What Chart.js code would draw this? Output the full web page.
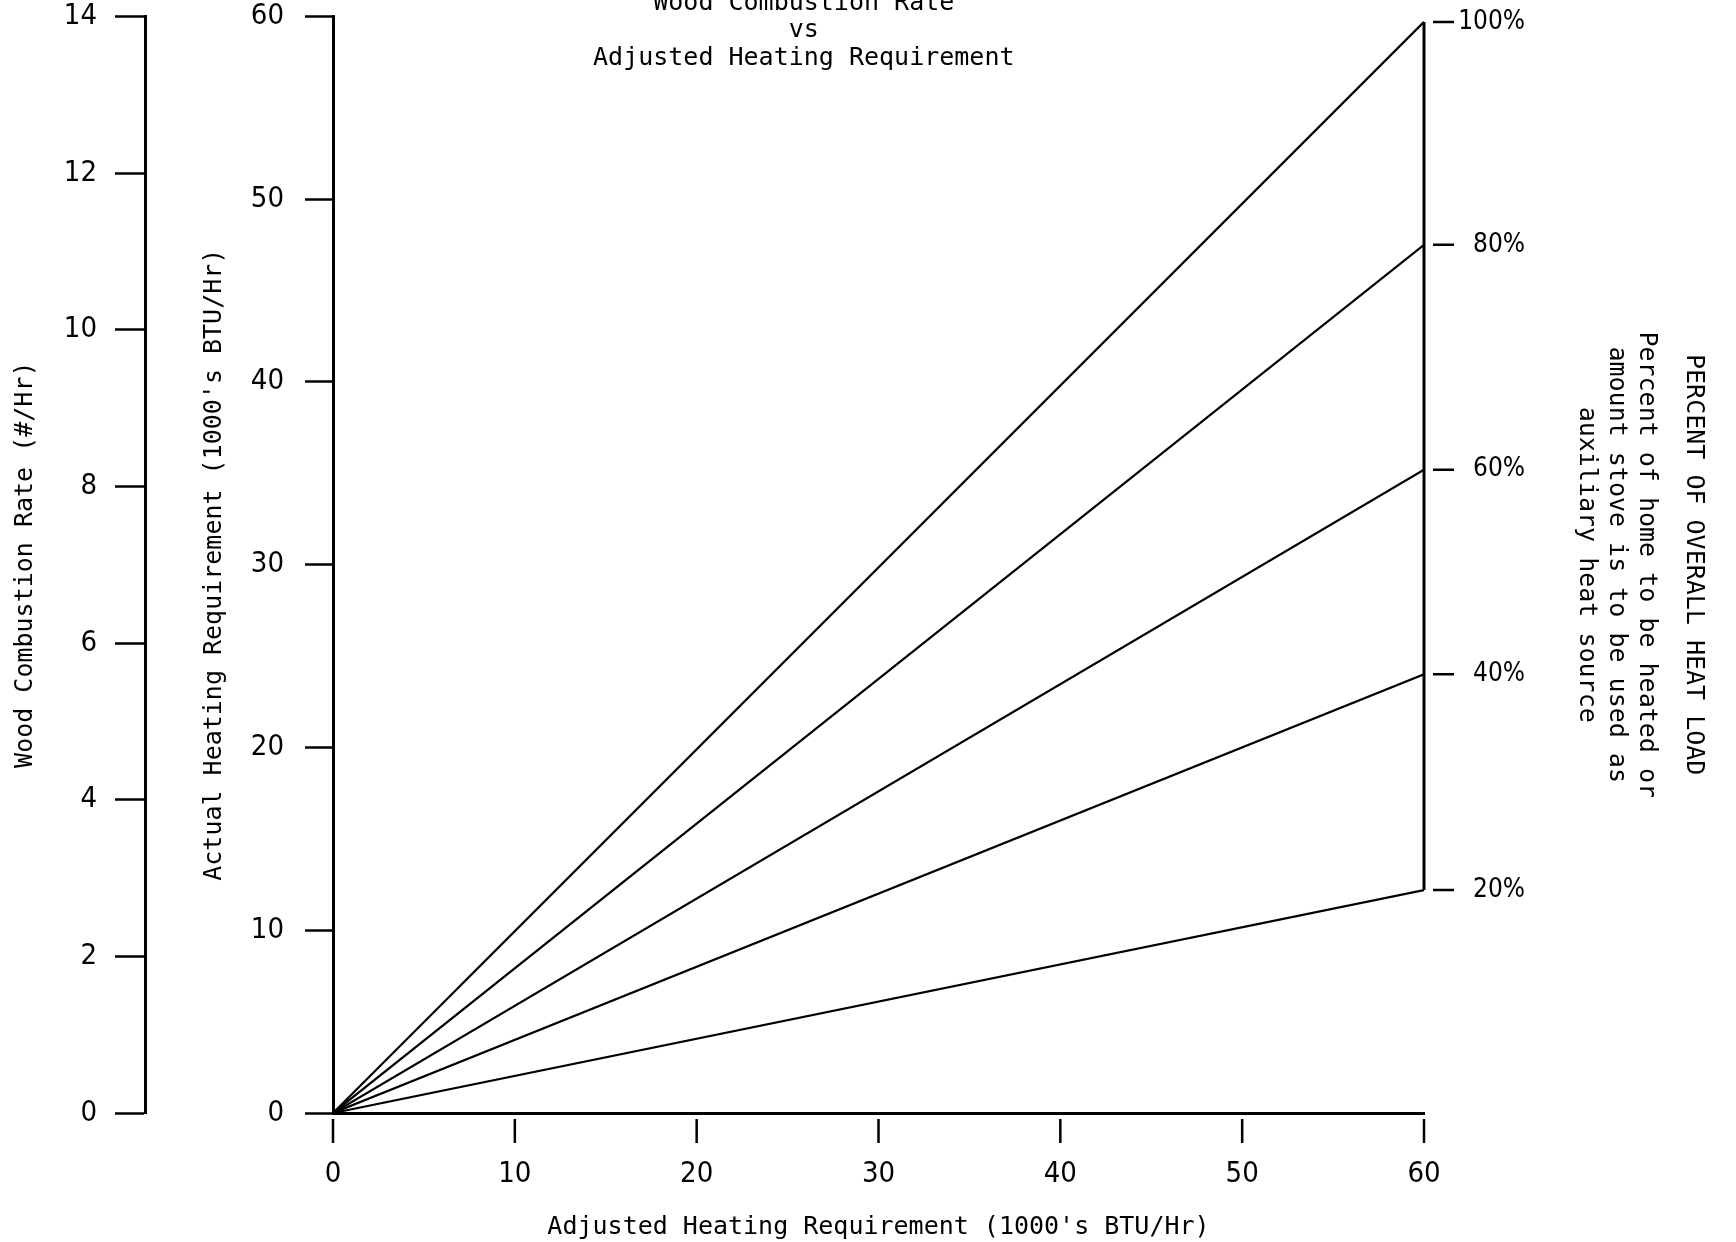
<!DOCTYPE html>
<html>
<head>
<meta charset="utf-8">
<script src="https://cdn.jsdelivr.net/npm/chart.js@4.4.1/dist/chart.umd.min.js"></script>
<style>
    html, body { margin: 0; padding: 0; background: #fff; overflow: hidden; }
    #wrap { position: relative; width: 1736px; height: 1264px; margin-top: -22px; }
</style>
</head>
<body>
<div id="wrap"><canvas id="woodChart"></canvas></div>
<script>
// Data
const titleLines = ['Wood Combustion Rate', 'vs', 'Adjusted Heating Requirement'];
const pctLabels = ['20%', '40%', '60%', '80%', '100%'];
const adjustedEnd = 60;                              // x where every line ends
const actualAtEnd = [12.2, 24.0, 35.2, 47.5, 59.7]; // actual heating (1000's BTU/Hr) at x = 60
const xMax = 60, yMax = 60, woodMax = 14;

const MONO = '"DejaVu Sans Mono", "Liberation Mono", monospace';
const NARROW = '"Liberation Sans Narrow", "DejaVu Sans Condensed", sans-serif';
const tickFont = { family: NARROW, size: 29 };
const titleFont = { family: MONO, size: 25, lineHeight: 1.2 };

const datasets = actualAtEnd.map((v, i) => ({
    label: pctLabels[i],
    data: [{ x: 0, y: 0 }, { x: adjustedEnd, y: v }],
    borderColor: '#000',
    borderWidth: 2.2,
    pointRadius: 0,
    tension: 0
}));

// Extra marks: partial right axis, gapped tick dashes, chart title
const axisMarks = {
    id: 'axisMarks',
    afterDraw(chart) {
        const { ctx, chartArea, scales } = chart;
        const p = scales.yPct, x = scales.x;
        ctx.save();
        ctx.strokeStyle = '#000';
        ctx.lineWidth = 3;
        ctx.beginPath();
        ctx.moveTo(chartArea.right, p.getPixelForValue(actualAtEnd[actualAtEnd.length - 1]));
        ctx.lineTo(chartArea.right, p.getPixelForValue(actualAtEnd[0]));
        ctx.stroke();

        ctx.lineWidth = 2.5;
        ctx.beginPath();
        p.ticks.forEach(t => {
            const y = p.getPixelForValue(t.value);
            ctx.moveTo(chartArea.right + 9, y);
            ctx.lineTo(chartArea.right + 30, y);
        });
        x.ticks.forEach(t => {
            const px = x.getPixelForValue(t.value);
            ctx.moveTo(px, chartArea.bottom + 6);
            ctx.lineTo(px, chartArea.bottom + 30);
        });
        ctx.stroke();

        ctx.fillStyle = '#000';
        ctx.font = '25px ' + MONO;
        ctx.textAlign = 'center';
        ctx.textBaseline = 'middle';
        titleLines.forEach((s, i) => ctx.fillText(s, chart.width * 0.463, 25 + i * 27.5));
        ctx.restore();
    }
};

function blankAxis(weight, text, padTop, width) {
    return {
        type: 'linear',
        position: 'right',
        weight: weight,
        ticks: { display: false },
        grid: { display: false, drawTicks: false },
        border: { display: false },
        title: { display: true, text: text, color: '#000', font: titleFont, padding: { top: padTop, bottom: 0 } },
        afterFit: s => { s.width = width; }
    };
}

new Chart(document.getElementById('woodChart'), {
    type: 'line',
    data: { datasets: datasets },
    plugins: [axisMarks],
    options: {
        responsive: true,
        maintainAspectRatio: false,
        animation: false,
        layout: { padding: { top: 14, left: 0, right: 0, bottom: 0 } },
        plugins: { legend: { display: false }, tooltip: { enabled: false } },
        scales: {
            x: {
                type: 'linear',
                position: 'bottom',
                min: 0,
                max: xMax,
                ticks: { stepSize: 10, color: '#000', font: tickFont, padding: 44 },
                grid: { display: false, drawTicks: false },
                border: { display: true, color: '#000', width: 3 },
                title: {
                    display: true, text: "Adjusted Heating Requirement (1000's BTU/Hr)",
                    color: '#000', font: titleFont, padding: { top: 0, bottom: 0 }
                },
                afterFit: s => { s.height = 129; }
            },
            y: {
                type: 'linear',
                position: 'left',
                weight: 0,
                min: 0,
                max: yMax,
                ticks: { stepSize: 10, color: '#000', font: tickFont, padding: 21 },
                grid: { drawOnChartArea: false, drawTicks: true, tickLength: 28, tickColor: '#000', tickWidth: 2.5 },
                border: { display: true, color: '#000', width: 3 },
                title: {
                    display: true, text: "Actual Heating Requirement (1000's BTU/Hr)",
                    color: '#000', font: titleFont, padding: { top: 54, bottom: 0 }
                },
                afterFit: s => { s.width = 188; }
            },
            yWood: {
                type: 'linear',
                position: 'left',
                weight: 1,
                min: 0,
                max: woodMax,
                ticks: { stepSize: 2, color: '#000', font: tickFont, padding: 18 },
                grid: { drawOnChartArea: false, drawTicks: true, tickLength: 30, tickColor: '#000', tickWidth: 2.5 },
                border: { display: true, color: '#000', width: 3 },
                title: {
                    display: true, text: 'Wood Combustion Rate (#/Hr)',
                    color: '#000', font: titleFont, padding: { top: 10, bottom: 0 }
                },
                afterFit: s => { s.width = 145; }
            },
            yPct: {
                type: 'linear',
                position: 'right',
                weight: 0,
                min: 0,
                max: yMax,
                afterBuildTicks: s => { s.ticks = actualAtEnd.map(v => ({ value: v })); },
                ticks: {
                    color: '#000', font: { family: NARROW, size: 26 }, crossAlign: 'far', autoSkip: false,
                    callback: (v, i) => pctLabels[i]
                },
                grid: { display: false, drawTicks: false },
                border: { display: false },
                afterFit: s => { s.width = 101; }
            },
            yBlock: blankAxis(1, ['Percent of home to be heated or', 'amount stove is to be used as', 'auxiliary heat source'], 9, 145),
            yTitle: blankAxis(2, 'PERCENT OF OVERALL HEAT LOAD', 28, 66)
        }
    }
});
</script>
</body>
</html>
